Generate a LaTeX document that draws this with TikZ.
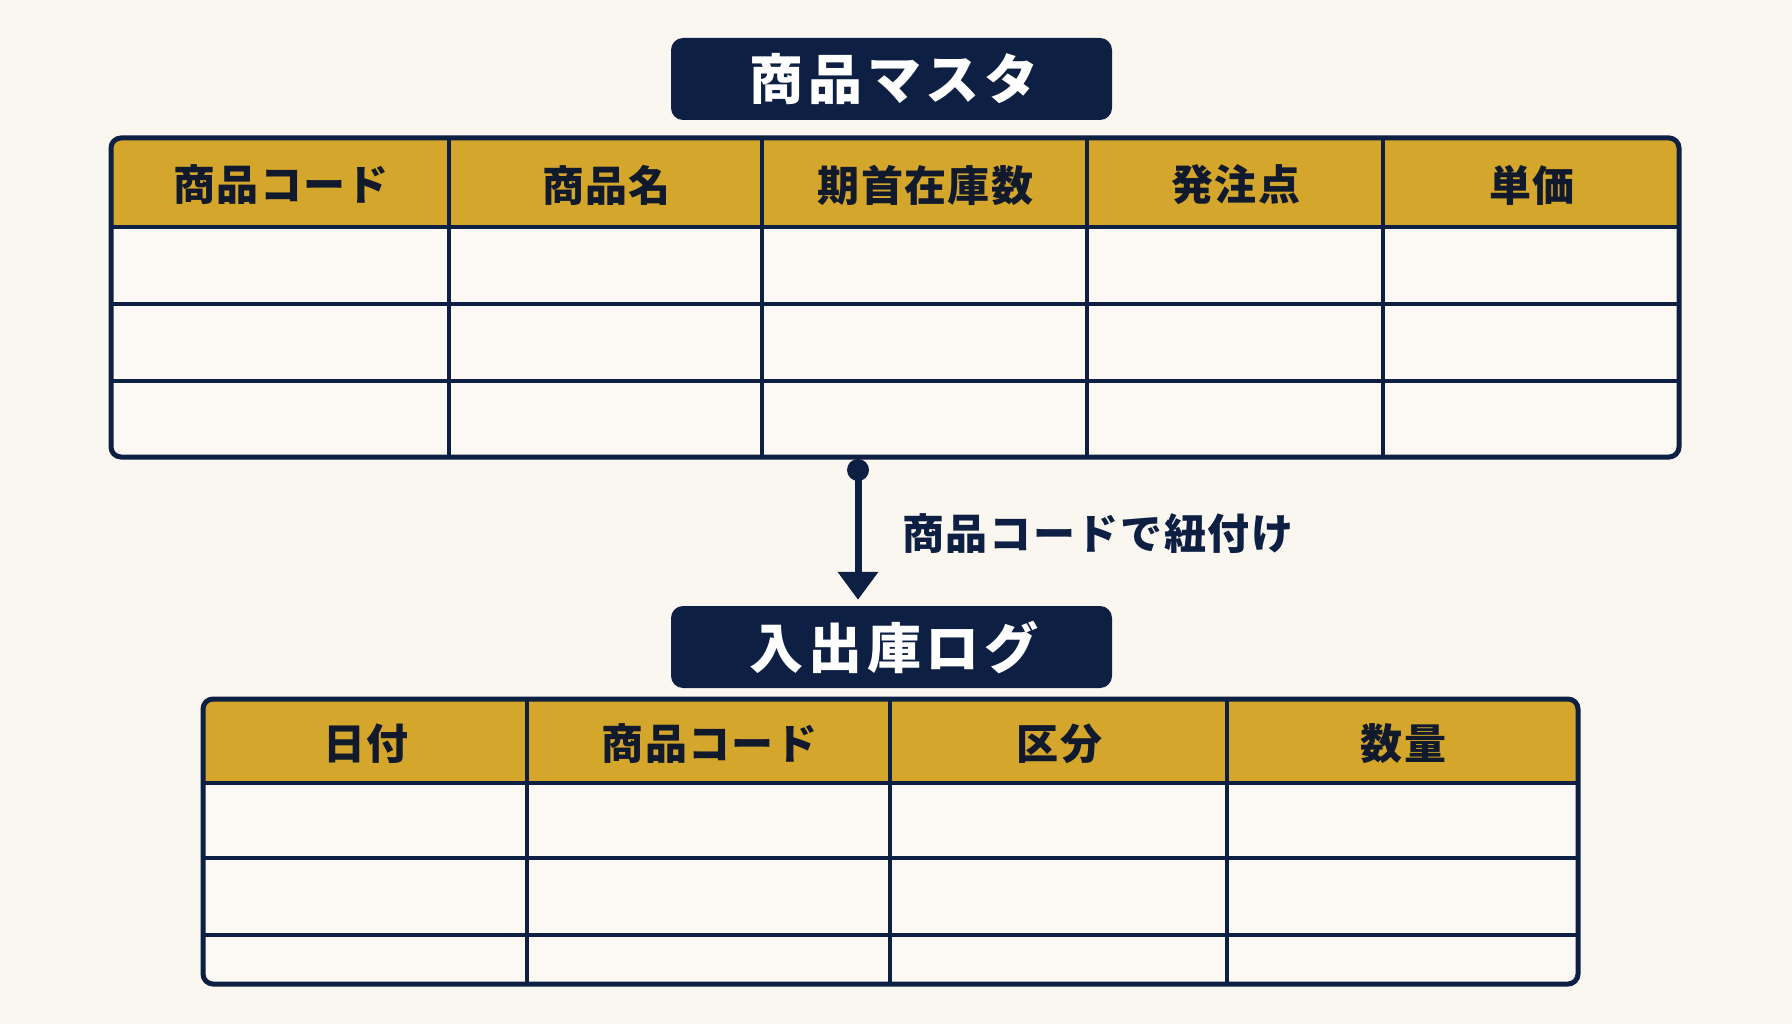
\documentclass[tikz,border=0pt]{standalone}
\usepackage{fontspec}
\setmainfont{Noto Sans CJK JP}
\usetikzlibrary{arrows.meta}
\definecolor{bgc}{HTML}{FAF6F0}
\definecolor{navy}{HTML}{0D1F42}
\definecolor{gold}{HTML}{D5A62C}
\definecolor{cellc}{HTML}{FCF9F5}
\definecolor{ink}{HTML}{111A2C}
\begin{document}
\begin{tikzpicture}[x=1pt,y=-1pt,
  titlebox/.style={fill=navy, text=white, rounded corners=12pt, inner sep=0pt,
    minimum width=441pt, minimum height=82pt,
    font=\fontsize{54}{54}\selectfont\bfseries\addfontfeatures{LetterSpace=9}},
  headtext/.style={text=ink, inner sep=0pt,
    font=\fontsize{42}{42}\selectfont\bfseries\addfontfeatures{LetterSpace=3}},
  gridline/.style={draw=navy, line width=3.5pt},
  frame/.style={draw=navy, line width=5pt, rounded corners=10pt, inner sep=0pt},
  linklabel/.style={text=navy, inner sep=0pt, anchor=west,
    font=\fontsize{42}{42}\selectfont\bfseries\addfontfeatures{LetterSpace=4}},
  linkarrow/.style={draw=navy, line width=7pt, -{Triangle[width=39pt,length=28pt]}}
]
\fill[bgc] (0,0) rectangle (1792,1024);
\useasboundingbox (0,0) rectangle (1792,1024);

% ---------- 商品マスタ ----------
\node[titlebox] (title1) at (891.5,79) {\hspace*{5pt}商品マスタ};

\begin{scope}
  \clip[rounded corners=10pt] (111,138) rectangle (1679,457);
  \fill[cellc] (111,138) rectangle (1679,457);
  \fill[gold] (111,138) rectangle (1679,227);
\end{scope}
\foreach \yy in {227,304,381} \draw[gridline] (111,\yy) -- (1679,\yy);
\foreach \xx in {449,762,1087,1383} \draw[gridline] (\xx,138) -- (\xx,457);
\node[frame, minimum width=1568pt, minimum height=319pt] (tbl1) at (895,297.5) {};

\node[headtext] (h11) at (281,185) {商品コード};
\node[headtext] (h12) at (606.5,185) {商品名};
\node[headtext] (h13) at (925.5,185) {期首在庫数};
\node[headtext] (h14) at (1236,185) {発注点};
\node[headtext] (h15) at (1532,185) {単価};

% ---------- 入出庫ログ ----------
\node[titlebox] (title2) at (891.5,647) {\hspace*{5pt}入出庫ログ};

\begin{scope}
  \clip[rounded corners=10pt] (203,699) rectangle (1578,984);
  \fill[cellc] (203,699) rectangle (1578,984);
  \fill[gold] (203,699) rectangle (1578,783);
\end{scope}
\foreach \yy in {783,858,935} \draw[gridline] (203,\yy) -- (1578,\yy);
\foreach \xx in {527,890,1227} \draw[gridline] (\xx,699) -- (\xx,984);
\node[frame, minimum width=1375pt, minimum height=285pt] (tbl2) at (890.5,841.5) {};

\node[headtext] (h21) at (366,744) {日付};
\node[headtext] (h22) at (709.5,744) {商品コード};
\node[headtext] (h23) at (1059.5,744) {区分};
\node[headtext] (h24) at (1403.5,744) {数量};

% ---------- connector ----------
\coordinate (link) at (858,470);
\fill[navy] (link) circle (11pt);
\draw[linkarrow, shorten >=6pt] (link) -- (link |- title2.north);
\node[linklabel] (lbl) at (902,534) {商品コードで紐付け};
\end{tikzpicture}
\end{document}
